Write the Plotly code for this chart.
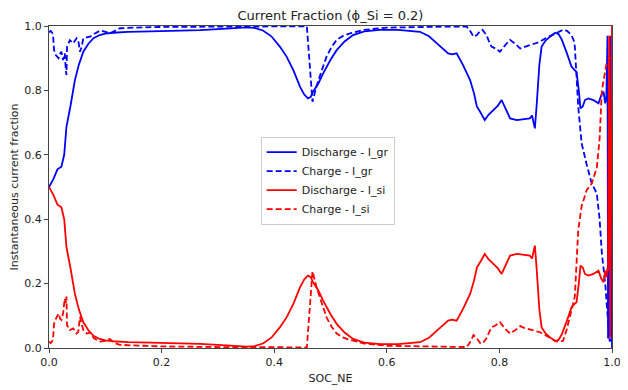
import plotly.graph_objects as go

# ---------------- data ----------------
soc_discharge = [0.0, 0.008, 0.015, 0.022, 0.027, 0.031, 0.038, 0.046, 0.053, 0.061, 0.07, 0.079,
                 0.09, 0.1, 0.114, 0.14, 0.18, 0.233, 0.268, 0.3, 0.33, 0.351, 0.365, 0.38, 0.395,
                 0.41, 0.422, 0.434, 0.446, 0.453, 0.46, 0.465, 0.469, 0.478, 0.487, 0.5, 0.511,
                 0.525, 0.54, 0.56, 0.588, 0.62, 0.659, 0.675, 0.689, 0.7, 0.709, 0.716, 0.724,
                 0.735, 0.748, 0.755, 0.76, 0.767, 0.774, 0.781, 0.789, 0.797, 0.804, 0.81, 0.819,
                 0.831, 0.845, 0.854, 0.858, 0.861, 0.863, 0.866, 0.871, 0.875, 0.882, 0.89, 0.899,
                 0.905, 0.911, 0.92, 0.928, 0.934, 0.937, 0.941, 0.944, 0.948, 0.952, 0.958, 0.967,
                 0.976, 0.981, 0.985, 0.988, 0.99, 0.992, 0.993, 0.995, 0.997, 0.999, 1.0]

discharge_i_gr = [0.50, 0.525, 0.555, 0.563, 0.60, 0.687, 0.75, 0.832, 0.88, 0.92, 0.945, 0.962,
                  0.972, 0.976, 0.979, 0.982, 0.983, 0.984, 0.987, 0.99, 0.994, 0.996, 0.994, 0.986, 0.968,
                  0.936, 0.905, 0.863, 0.811, 0.788, 0.775, 0.78, 0.796, 0.82, 0.853, 0.895, 0.925,
                  0.952, 0.972, 0.983, 0.988, 0.988, 0.982, 0.968, 0.946, 0.93, 0.915, 0.912, 0.915,
                  0.88, 0.832, 0.79, 0.75, 0.73, 0.708, 0.725, 0.739, 0.752, 0.77, 0.745, 0.713,
                  0.708, 0.712, 0.713, 0.722, 0.70, 0.682, 0.75, 0.88, 0.936, 0.955, 0.967, 0.979,
                  0.975, 0.957, 0.915, 0.874, 0.862, 0.858, 0.80, 0.744, 0.75, 0.77, 0.775, 0.77,
                  0.76, 0.785, 0.796, 0.76, 0.78, 0.97, 0.03, 0.04, 0.97, 0.03, 0.0]

discharge_i_si = [0.50, 0.475, 0.445, 0.437, 0.40, 0.313, 0.25, 0.168, 0.12, 0.08, 0.055, 0.038,
                  0.028, 0.024, 0.021, 0.018, 0.017, 0.016, 0.013, 0.01, 0.006, 0.004, 0.006, 0.014, 0.032,
                  0.064, 0.095, 0.137, 0.189, 0.212, 0.225, 0.22, 0.204, 0.18, 0.147, 0.105, 0.075,
                  0.048, 0.028, 0.017, 0.012, 0.012, 0.018, 0.032, 0.054, 0.07, 0.085, 0.088, 0.085,
                  0.12, 0.168, 0.21, 0.25, 0.27, 0.292, 0.275, 0.261, 0.248, 0.23, 0.255, 0.287,
                  0.292, 0.288, 0.287, 0.278, 0.30, 0.318, 0.25, 0.12, 0.064, 0.045, 0.033, 0.021,
                  0.025, 0.043, 0.085, 0.126, 0.138, 0.142, 0.20, 0.256, 0.25, 0.23, 0.225, 0.23,
                  0.24, 0.215, 0.204, 0.24, 0.22, 0.25, 0.24, 0.97, 0.03, 0.98, 1.0]

soc_charge = [0.0, 0.003, 0.007, 0.009, 0.012, 0.014, 0.017, 0.02, 0.022, 0.025, 0.028, 0.030,
              0.031, 0.032, 0.037, 0.043, 0.049, 0.052, 0.055, 0.058, 0.061, 0.067, 0.073, 0.08,
              0.091, 0.1, 0.108, 0.117, 0.126, 0.15, 0.2, 0.3, 0.4, 0.458, 0.468, 0.475, 0.484,
              0.493, 0.502, 0.511, 0.523, 0.535, 0.56, 0.6, 0.7, 0.742, 0.748, 0.754, 0.76, 0.766,
              0.77, 0.777, 0.782, 0.786, 0.793, 0.801, 0.81, 0.819, 0.828, 0.837, 0.845, 0.854,
              0.863, 0.872, 0.882, 0.893, 0.903, 0.913, 0.92, 0.928, 0.932, 0.934, 0.94, 0.946,
              0.955, 0.964, 0.973, 0.978, 0.982, 0.988, 0.991, 0.994, 0.996, 0.998, 1.0]

charge_i_gr = [0.98, 0.985, 0.975, 0.925, 0.91, 0.905, 0.90, 0.915, 0.92, 0.894, 0.915, 0.86,
               0.848, 0.936, 0.956, 0.946, 0.962, 0.955, 0.92, 0.935, 0.962, 0.965, 0.967, 0.975,
               0.986, 0.982, 0.977, 0.985, 0.993, 0.995, 0.997, 0.998, 0.999, 0.999, 0.765, 0.812, 0.86,
               0.905, 0.935, 0.957, 0.97, 0.977, 0.988, 0.995, 0.998, 0.998, 0.985, 0.967, 0.972, 0.985,
               0.988, 0.972, 0.95, 0.936, 0.93, 0.92, 0.94, 0.957, 0.945, 0.93, 0.935, 0.941,
               0.945, 0.951, 0.962, 0.972, 0.98, 0.988, 0.985, 0.972, 0.955, 0.936, 0.75, 0.636,
               0.57, 0.511, 0.48, 0.40, 0.294, 0.2, 0.128, 0.06, 0.02, 0.03, 0.03]

charge_i_si = [0.02, 0.015, 0.025, 0.075, 0.09, 0.097, 0.107, 0.09, 0.087, 0.107, 0.154, 0.14,
               0.16, 0.071, 0.056, 0.061, 0.045, 0.05, 0.097, 0.075, 0.056, 0.045, 0.048, 0.03,
               0.02, 0.022, 0.028, 0.015, 0.01, 0.008, 0.005, 0.003, 0.002, 0.002, 0.238, 0.19, 0.142,
               0.095, 0.066, 0.045, 0.032, 0.025, 0.014, 0.007, 0.004, 0.003, 0.018, 0.04, 0.03, 0.015,
               0.014, 0.03, 0.05, 0.064, 0.07, 0.08, 0.06, 0.045, 0.055, 0.068, 0.062, 0.058,
               0.055, 0.049, 0.04, 0.028, 0.02, 0.022, 0.06, 0.12, 0.15, 0.16, 0.366, 0.44,
               0.49, 0.511, 0.56, 0.65, 0.80, 0.86, 0.89, 0.89, 0.9, 0.9, 0.9]

tick_vals = [0.0, 0.2, 0.4, 0.6, 0.8, 1.0]
tick_text = ["0.0", "0.2", "0.4", "0.6", "0.8", "1.0"]

# ---------------- figure ----------------
# the page body has an 8px default margin, so the figure is made 8px smaller
FONT = "DejaVu Sans"
W, H = 620, 382
fig = go.Figure()
fig.add_trace(go.Scatter(x=soc_discharge, y=discharge_i_gr, mode="lines", name="Discharge - I_gr",
                         line=dict(color="#0000ff", width=1.8)))
fig.add_trace(go.Scatter(x=soc_charge, y=charge_i_gr, mode="lines", name="Charge - I_gr",
                         line=dict(color="#0000ff", width=1.8, dash="6px,3px")))
fig.add_trace(go.Scatter(x=soc_discharge, y=discharge_i_si, mode="lines", name="Discharge - I_si",
                         line=dict(color="#ff0000", width=1.8)))
fig.add_trace(go.Scatter(x=soc_charge, y=charge_i_si, mode="lines", name="Charge - I_si",
                         line=dict(color="#ff0000", width=1.8, dash="6px,3px")))

axis_common = dict(range=[0, 1], showgrid=False, zeroline=False, showline=True, mirror=True,
                   linecolor="#444444", linewidth=1, ticks="outside", ticklen=4, tickwidth=1,
                   tickcolor="#444444", tickvals=tick_vals, ticktext=tick_text, automargin=False,
                   tickfont=dict(family=FONT, size=11, color="#222222"))

fig.update_layout(
    width=W, height=H,
    margin=dict(l=41, r=16, t=18, b=42),
    paper_bgcolor="white", plot_bgcolor="white",
    font=dict(family=FONT, size=11, color="#222222"),
    title=dict(text="Current Fraction (ϕ_Si = 0.2)", x=0.5, xref="paper", xanchor="center",
               y=1 - 7 / H, yref="container", yanchor="middle", automargin=False,
               font=dict(family=FONT, size=13, color="#222222")),
    xaxis=dict(title=dict(text="SOC_NE", standoff=6, font=dict(family=FONT, size=11)), **axis_common),
    yaxis=dict(title=dict(text="Instantaneous current fraction", standoff=6,
                          font=dict(family=FONT, size=11)), **axis_common),
    legend=dict(x=0.495, y=0.52, xanchor="center", yanchor="middle", bgcolor="rgba(255,255,255,0.8)",
                bordercolor="#cccccc", borderwidth=1, font=dict(family=FONT, size=11, color="#222222"),
                tracegroupgap=0, itemwidth=30),
    showlegend=True,
)

fig.write_html("out.html")
